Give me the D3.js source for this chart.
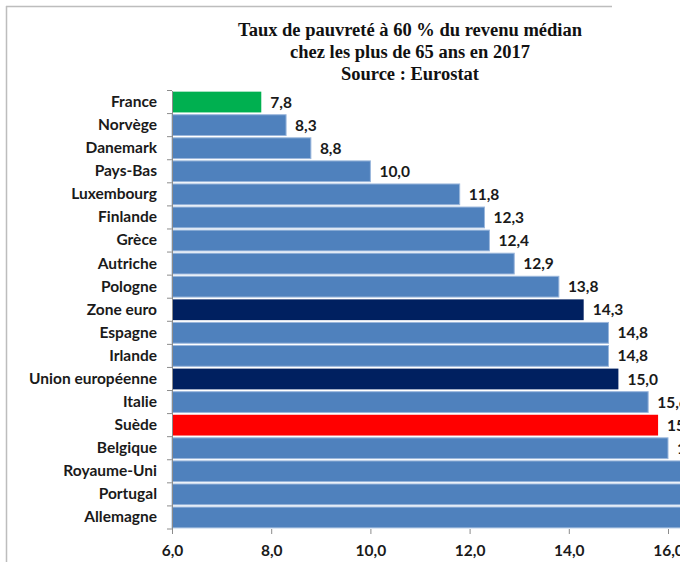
<!DOCTYPE html>
<html>
	<head>
		<meta charset="utf-8">
		<title>Taux de pauvreté 65 ans et plus</title>
		<script src="https://d3js.org/d3.v7.min.js" charset="utf-8"></script>
		<style>
			body{
				margin: 0;
				background: white;
			}
			.lbl{
				font-family: "Lato", "Open Sans", sans-serif;
				font-weight: bold;
				font-size: 15.5px;
				fill: #1a1a1a;
			}
			.ttl{
				font-family: "Liberation Serif", "DejaVu Serif", serif;
				font-weight: bold;
				font-size: 18.5px;
				fill: #111;
			}
		</style>
	</head>
	<body>
		<script>
			var pays = ["France", "Norvège", "Danemark", "Pays-Bas", "Luxembourg", "Finlande", "Grèce",
						"Autriche", "Pologne", "Zone euro", "Espagne", "Irlande", "Union européenne",
						"Italie", "Suède", "Belgique", "Royaume-Uni", "Portugal", "Allemagne"];
			var taux = [7.8, 8.3, 8.8, 10.0, 11.8, 12.3, 12.4, 12.9, 13.8, 14.3, 14.8, 14.8, 15.0,
						15.6, 15.8, 16.0, 16.5, 17.7, 18.7];
			var couleurs = ["#00b050", "#4f81bd", "#4f81bd", "#4f81bd", "#4f81bd", "#4f81bd", "#4f81bd",
							"#4f81bd", "#4f81bd", "#002060", "#4f81bd", "#4f81bd", "#002060",
							"#4f81bd", "#ff0000", "#4f81bd", "#4f81bd", "#4f81bd", "#4f81bd"];
			var ticks = [6, 8, 10, 12, 14, 16];
			var titre = ["Taux de pauvreté à 60 % du revenu médian",
						 "chez les plus de 65 ans en 2017",
						 "Source : Eurostat"];

			var width = 680;
			var height = 562;
			var fmt = function(v){ return v.toFixed(1).replace(".", ","); };

			var svg = d3.select("body")
						.append("svg")
						.attr("width", width)
						.attr("height", height);

			// cadre de la capture
			svg.append("line")
			   .attr("x1", 6).attr("y1", 6.5).attr("x2", 612).attr("y2", 6.5)
			   .attr("stroke", "#bdbdbd").attr("stroke-width", 1.5);
			svg.append("line")
			   .attr("x1", 6.5).attr("y1", 6).attr("x2", 6.5).attr("y2", height)
			   .attr("stroke", "#bdbdbd").attr("stroke-width", 1.5);

			svg.selectAll(".ttl")
			   .data(titre)
			   .enter()
			   .append("text")
			   .attr("class", "ttl")
			   .attr("x", 410)
			   .attr("y", function(d, i){ return 36 + i * 22; })
			   .attr("text-anchor", "middle")
			   .text(function(d){ return d; });

			var x = d3.scaleLinear().domain([6, 16]).range([172, 668]);
			var y = d3.scaleBand().domain(pays).range([90.5, 529]).paddingInner(0.1).paddingOuter(0.05);

			var g = svg.append("g");

			g.selectAll("rect")
			 .data(pays)
			 .enter()
			 .append("rect")
			 .attr("x", x(6))
			 .attr("y", function(d){ return y(d); })
			 .attr("width", function(d, i){ return x(taux[i]) - x(6); })
			 .attr("height", y.bandwidth())
			 .attr("fill", function(d, i){ return couleurs[i]; })
			 .attr("stroke", function(d, i){ return couleurs[i] == "#4f81bd" ? "#9bb7dc" : "none"; })
			 .attr("stroke-width", 1);

			g.selectAll(".val")
			 .data(pays)
			 .enter()
			 .append("text")
			 .attr("class", "lbl val")
			 .attr("x", function(d, i){ return x(taux[i]) + 9; })
			 .attr("y", function(d){ return y(d) + y.bandwidth() / 2; })
			 .attr("dy", "0.36em")
			 .text(function(d, i){ return fmt(taux[i]); });

			// axe des catégories
			var yAxis = d3.axisLeft(d3.scaleBand().domain(pays).range([90.5, 529]))
						  .tickSize(0).tickPadding(15);
			var ga = svg.append("g").attr("transform", "translate(" + x(6) + ",0)").call(yAxis);
			ga.select(".domain").attr("stroke", "#8c8c8c");
			ga.selectAll("text").attr("class", "lbl").attr("fill", null);
			var bounds = d3.range(pays.length + 1).map(function(i){ return 90.5 + i * (529 - 90.5) / pays.length; });
			svg.selectAll(".ytick")
			   .data(bounds)
			   .enter()
			   .append("line")
			   .attr("x1", x(6) - 5).attr("x2", x(6))
			   .attr("y1", function(d){ return d; }).attr("y2", function(d){ return d; })
			   .attr("stroke", "#8c8c8c");

			// axe des valeurs
			var xAxis = d3.axisBottom(x).tickValues(ticks).tickSize(5).tickPadding(11).tickFormat(fmt);
			var gx = svg.append("g").attr("transform", "translate(0,529)").call(xAxis);
			gx.select(".domain").remove();
			gx.selectAll("line").attr("stroke", "#8c8c8c");
			gx.selectAll("text").attr("class", "lbl").attr("fill", null);
		</script>
	</body>
</html>
